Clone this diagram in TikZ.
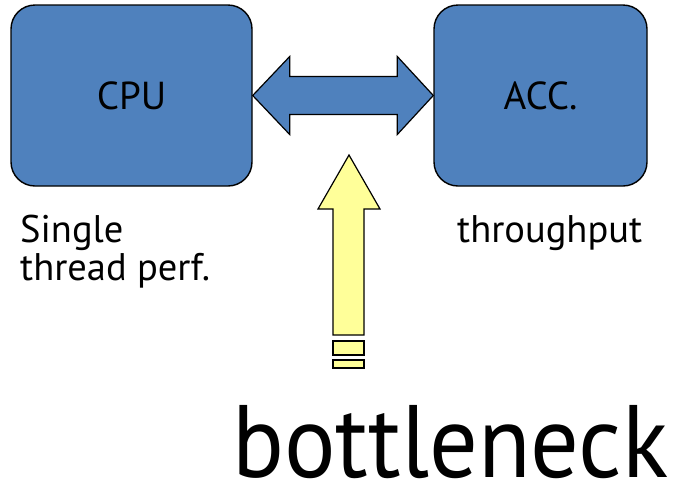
\documentclass[tikz,border=0pt]{standalone}
\usepackage{fontspec}
\usepackage{graphicx}
\setmainfont{PT Sans}
\usetikzlibrary{calc}
\definecolor{unitblue}{HTML}{4F81BD}
\definecolor{hintyellow}{HTML}{FFFF99}
\begin{document}
\begin{tikzpicture}[x=1pt,y=-1pt,
  unit/.style={draw=black, line width=1.4pt, fill=unitblue, rounded corners=24pt,
    minimum width=241pt, minimum height=181pt, inner sep=0pt, font=\fontsize{39}{44}\selectfont},
  bus/.style={draw=black, line width=1.2pt, fill=unitblue, line join=miter},
  hint/.style={draw=black, line width=1.2pt, fill=hintyellow, line join=miter},
  caption/.style={anchor=base west, inner sep=0pt, font=\fontsize{38.5}{38}\selectfont, align=left}]
\useasboundingbox (0,0) rectangle (675,483);
% processing units
\node[unit] (cpu) at (131.5,95.5) {CPU};
\node[unit, minimum width=213pt] (acc) at (540.5,95.5) {ACC.};
% bidirectional link between the units
\draw[bus] (cpu.east) -- ++(37,-39) -- ++(0,20) -- ($(acc.west)+(-36,-19)$)
  -- ++(0,-20) -- (acc.west) -- ++(-36,39) -- ++(0,-20)
  -- ($(cpu.east)+(37,19)$) -- ++(0,20) -- cycle;
% upward arrow pointing at the link
\coordinate (tip) at (349,155);
\draw[hint] (tip) -- ++(31,54) -- ++(-16,0) -- ++(0,126) -- ++(-31,0)
  -- ++(0,-126) -- ++(-15,0) -- cycle;
\draw[hint] (333,341) rectangle (364,355);
\draw[hint] (333,360) rectangle (364,368);
% captions (base anchor of a two-line node sits on its last line)
\node[caption] (single) at (20,280) {Single\\thread perf.};
\node[caption] (thr) at (457,242) {throughput};
\node[anchor=base west, inner sep=0pt] (bn) at (232,477)
  {\resizebox{436pt}{\height}{\fontsize{103}{110}\selectfont bottleneck}};
\end{tikzpicture}
\end{document}
